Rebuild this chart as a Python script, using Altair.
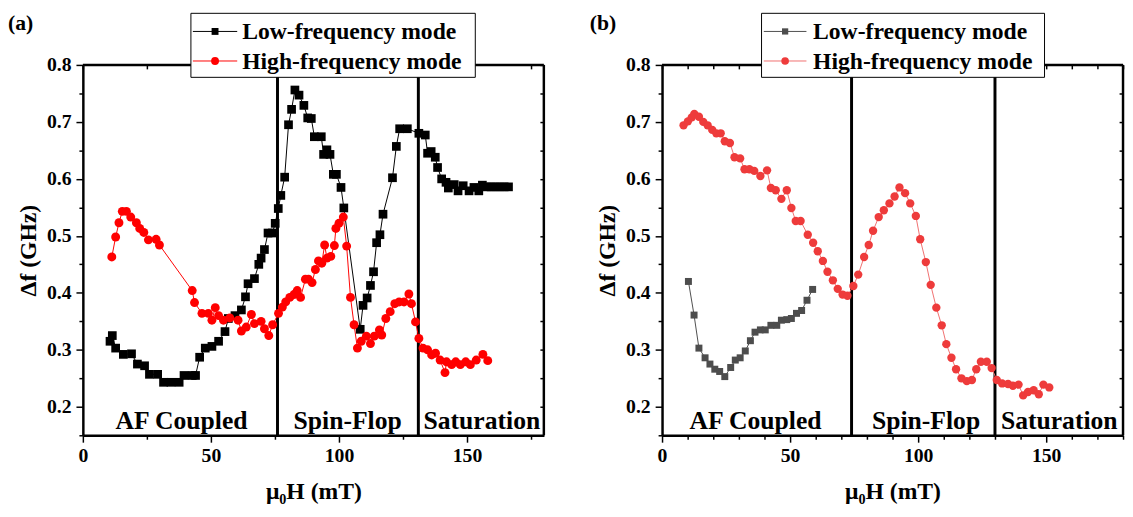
import altair as alt
import pandas as pd

FONT = "Liberation Serif"
W, H = 468, 376
XDOM = [0, 180]
YDOM = [0.15, 0.8]

series_names = ["Low-frequency mode", "High-frequency mode"]
region_labels = ["AF Coupled", "Spin-Flop", "Saturation"]

# ---------------- panel (a) ----------------
a_low_x = [10.6, 11.5, 12.8, 15.8, 19.0, 21.3, 24.1, 26.0, 29.2, 31.5, 34.4, 37.6, 39.5, 42.7, 44.0,
           45.6, 47.8, 50.4, 53.0, 55.5, 56.8, 59.4, 61.9, 63.5, 64.5, 67.0, 68.7, 69.6, 70.9, 72.3,
           74.0, 75.1, 76.3, 77.3, 78.8, 80.3, 81.5, 82.8, 84.4, 86.3, 87.8, 89.2, 90.4, 93.1, 94.0,
           95.3, 96.5, 97.8, 99.0, 100.8, 101.9, 108.3, 109.4, 111.0, 112.3, 113.5, 114.7, 116.0, 117.2,
           120.9, 122.4, 123.7, 126.7, 131.2, 133.7, 134.6, 136.0, 137.6, 138.5, 140.1, 141.8, 142.7,
           145.0, 146.5, 148.5, 150.8, 152.7, 154.6, 156.0, 157.7, 159.4, 161.1, 162.8, 164.5, 166.2]
a_low_y = [0.315, 0.325, 0.303, 0.292, 0.293, 0.275, 0.272, 0.257, 0.257, 0.243, 0.243, 0.243, 0.255, 0.255, 0.255,
           0.287, 0.303, 0.306, 0.315, 0.332, 0.355, 0.360, 0.370, 0.393, 0.416, 0.425, 0.450, 0.461, 0.476, 0.505,
           0.505, 0.522, 0.548, 0.571, 0.603, 0.695, 0.722, 0.756, 0.747, 0.729, 0.707, 0.706, 0.674, 0.674, 0.643,
           0.651, 0.643, 0.608, 0.608, 0.585, 0.549, 0.336, 0.378, 0.391, 0.413, 0.437, 0.488, 0.502, 0.538,
           0.602, 0.657, 0.688, 0.688, 0.680, 0.677, 0.645, 0.648, 0.638, 0.620, 0.600, 0.594, 0.584,
           0.590, 0.579, 0.588, 0.579, 0.585, 0.579, 0.589, 0.586, 0.586, 0.586, 0.586, 0.586, 0.586]

a_high_x = [11.3, 12.8, 14.1, 15.4, 17.0, 18.7, 20.9, 22.2, 23.8, 25.6, 28.6, 29.9, 42.7, 43.6, 46.5,
            49.0, 50.4, 51.7, 53.0, 54.9, 57.4, 60.6, 61.9, 63.8, 65.8, 67.0, 69.6, 70.9, 72.6, 74.1,
            76.4, 77.9, 79.2, 80.8, 82.4, 83.7, 85.0, 86.9, 88.1, 89.5, 90.8, 92.0, 93.3, 94.4, 95.3,
            96.8, 98.2, 98.8, 100.0, 101.7, 103.0, 104.5, 105.9, 107.2, 108.7, 110.7, 112.3, 113.8, 115.8,
            116.7, 118.3, 120.0, 121.8, 123.5, 125.4, 127.3, 128.3, 129.9, 131.2, 132.8, 134.6, 136.2,
            137.7, 139.5, 141.4, 142.0, 144.0, 145.6, 147.4, 149.5, 151.3, 153.6, 156.2, 158.1]
a_high_y = [0.463, 0.498, 0.523, 0.543, 0.543, 0.533, 0.523, 0.513, 0.506, 0.493, 0.494, 0.484, 0.404, 0.383, 0.364,
            0.364, 0.352, 0.374, 0.360, 0.352, 0.356, 0.352, 0.333, 0.340, 0.362, 0.346, 0.350, 0.337, 0.325, 0.344,
            0.364, 0.375, 0.384, 0.392, 0.397, 0.404, 0.392, 0.424, 0.424, 0.418, 0.441, 0.456, 0.452, 0.484, 0.461,
            0.464, 0.483, 0.513, 0.522, 0.533, 0.482, 0.392, 0.344, 0.303, 0.315, 0.324, 0.311, 0.324, 0.335,
            0.326, 0.355, 0.367, 0.381, 0.384, 0.384, 0.398, 0.381, 0.349, 0.320, 0.303, 0.300, 0.291,
            0.294, 0.282, 0.260, 0.279, 0.274, 0.279, 0.274, 0.279, 0.274, 0.282, 0.292, 0.281]

# ---------------- panel (b) ----------------
b_low_x = [10.3, 12.5, 14.4, 16.8, 18.7, 20.6, 22.5, 24.5, 26.8, 28.6, 30.5, 32.5, 34.5, 36.3, 38.4,
           40.3, 42.5, 44.8, 46.6, 48.7, 50.5, 52.5, 54.5, 56.6, 58.8]
b_low_y = [0.420, 0.361, 0.303, 0.286, 0.275, 0.266, 0.262, 0.253, 0.269, 0.282, 0.286, 0.298, 0.316, 0.331, 0.335,
           0.335, 0.343, 0.343, 0.352, 0.353, 0.355, 0.364, 0.369, 0.387, 0.406]

b_high_x = [8.4, 10.1, 11.6, 12.6, 14.4, 16.1, 17.8, 19.6, 21.2, 22.9, 24.5, 26.5, 28.3, 30.5, 32.2,
            34.1, 36.0, 38.4, 41.0, 42.5, 44.4, 46.6, 48.7, 50.5, 52.2, 54.1, 56.9, 59.0, 60.8, 62.8,
            64.6, 66.7, 68.6, 70.5, 72.4, 74.7, 76.6, 78.9, 80.7, 82.4, 84.6, 86.6, 88.8, 90.8, 92.7,
            94.9, 96.9, 99.1, 100.8, 103.0, 104.9, 107.1, 109.2, 111.0, 113.0, 114.8, 116.9, 119.0, 121.0,
            122.7, 124.5, 126.8, 128.7, 130.7, 132.8, 135.1, 137.0, 139.2, 141.0, 142.9, 145.1, 147.1,
            148.9, 151.2]
b_high_y = [0.694, 0.701, 0.708, 0.714, 0.709, 0.700, 0.694, 0.686, 0.680, 0.680, 0.666, 0.663, 0.638, 0.636, 0.617,
            0.617, 0.614, 0.605, 0.615, 0.584, 0.580, 0.565, 0.580, 0.549, 0.526, 0.526, 0.502, 0.488, 0.473, 0.456,
            0.437, 0.422, 0.407, 0.397, 0.395, 0.412, 0.432, 0.463, 0.484, 0.509, 0.533, 0.545, 0.557, 0.569, 0.585,
            0.575, 0.557, 0.535, 0.494, 0.454, 0.414, 0.374, 0.343, 0.310, 0.286, 0.266, 0.250, 0.245, 0.247,
            0.266, 0.279, 0.279, 0.268, 0.247, 0.241, 0.240, 0.237, 0.239, 0.220, 0.226, 0.229, 0.222,
            0.239, 0.234]

a_sep_x = [76, 131]
b_sep_x = [74, 130]
a_region_x = [38.5, 103.4, 155.8]
b_region_x = [36.5, 103.1, 155.1]
a_xticks = [0, 25, 50, 75, 100, 125, 150, 175]
b_xticks = [0, 10, 20, 30, 40, 50, 60, 70, 80, 90, 100, 110, 120, 130, 140, 150, 160, 170, 180]
yticks = [0.15, 0.2, 0.25, 0.3, 0.35, 0.4, 0.45, 0.5, 0.55, 0.6, 0.65, 0.7, 0.75, 0.8]

YMAJOR = "abs(datum.value*10 - round(datum.value*10)) < 0.01"
XMAJOR = "datum.value % 50 === 0"


def panel(tag, low_x, low_y, high_x, high_y, sep_x, region_x, xticks, sty):
    xs = alt.Scale(domain=XDOM, nice=False, zero=False)
    ys = alt.Scale(domain=YDOM, nice=False, zero=False)
    xaxis = alt.Axis(values=xticks, labelExpr=XMAJOR + " ? datum.label : ''",
                     tickSize={"condition": {"test": XMAJOR, "value": 7}, "value": 4},
                     title="μ₀H (mT)", grid=False, domainWidth=2.5, domainColor="black",
                     tickWidth=1.5, tickColor="black", labelPadding=4, titlePadding=14,
                     labelFontSize=20, titleFontSize=24, labelFlush=False)
    yaxis = alt.Axis(values=yticks, labelExpr=YMAJOR + " ? format(datum.value, '.1f') : ''",
                     tickSize={"condition": {"test": YMAJOR, "value": 7}, "value": 4},
                     title="Δf (GHz)", grid=False, domainWidth=2.5, domainColor="black",
                     tickWidth=1.5, tickColor="black", labelPadding=5, titlePadding=6,
                     labelFontSize=20, titleFontSize=24, labelFlush=False)
    X = alt.X("x:Q", scale=xs, axis=xaxis)
    Y = alt.Y("y:Q", scale=ys, axis=yaxis)

    df_low = pd.DataFrame({"x": low_x, "y": low_y})
    df_high = pd.DataFrame({"x": high_x, "y": high_y})
    df_sep = pd.DataFrame({"x": sep_x})
    df_reg = pd.DataFrame({"x": region_x, "label": region_labels})
    one = pd.DataFrame({"a": [0]})

    sep = alt.Chart(df_sep).mark_rule(color="black", strokeWidth=3).encode(
        x=X, y=alt.value(0), y2=alt.value(H))
    low_line = alt.Chart(df_low).mark_line(color=sty["low_line"], strokeWidth=1).encode(x=X, y=Y)
    low_pts = alt.Chart(df_low).mark_point(shape="square", filled=True, opacity=1,
                                           size=sty["low_size"], color=sty["low"]).encode(x=X, y=Y)
    high_line = alt.Chart(df_high).mark_line(color=sty["high_line"], strokeWidth=1).encode(x=X, y=Y)
    high_pts = alt.Chart(df_high).mark_point(shape="circle", filled=True, opacity=1,
                                             size=sty["high_size"], color=sty["high"]).encode(x=X, y=Y)
    reg = alt.Chart(df_reg).mark_text(font=FONT, fontWeight="bold", fontSize=26, color="black",
                                      baseline="alphabetic", align="center").encode(
        x=X, y=alt.value(H - 6.5), text="label:N")
    top = alt.Chart(one).mark_rule(color="black", strokeWidth=2.5).encode(
        x=alt.value(0), x2=alt.value(W), y=alt.value(0))
    right = alt.Chart(one).mark_rule(color="black", strokeWidth=2.5).encode(
        x=alt.value(W), y=alt.value(0), y2=alt.value(H))

    lg = sty["legend"]
    leg_box = alt.Chart(one).mark_rect(fill="white", stroke="black", strokeWidth=1).encode(
        x=alt.value(lg["x0"]), x2=alt.value(lg["x1"]), y=alt.value(-52.4), y2=alt.value(12.6))
    legend_layers = [leg_box]
    rows = [(-34, sty["low_line"], sty["low"], "square", sty["leg_low_size"], series_names[0]),
            (-4, sty["high_line"], sty["high"], "circle", sty["leg_high_size"], series_names[1])]
    for ry, lc, mc, shp, sz, name in rows:
        legend_layers.append(alt.Chart(one).mark_rule(color=lc, strokeWidth=1).encode(
            x=alt.value(lg["l0"]), x2=alt.value(lg["l1"]), y=alt.value(ry)))
        legend_layers.append(alt.Chart(one).mark_point(shape=shp, filled=True, opacity=1, size=sz,
                                                       color=mc).encode(
            x=alt.value((lg["l0"] + lg["l1"]) / 2), y=alt.value(ry)))
        legend_layers.append(alt.Chart(one).mark_text(text=name, font=FONT, fontWeight="bold",
                                                      fontSize=24, color="black", align="left",
                                                      baseline="middle").encode(
            x=alt.value(lg["tx"]), y=alt.value(ry + 1)))
    lab = alt.Chart(one).mark_text(text=tag, font=FONT, fontWeight="bold", fontSize=22,
                                   color="black", align="left", baseline="middle").encode(
        x=alt.value(sty["tag_x"]), y=alt.value(-42.5))

    main = alt.layer(sep, low_line, high_line, low_pts, high_pts, reg, top, right,
                     *legend_layers, lab)

    sec = alt.Chart(df_high).mark_point(opacity=0).encode(
        x=alt.X("x:Q", scale=xs, axis=alt.Axis(orient="top", values=xticks, labels=False,
                                               domain=False, tickSize=4, offset=-4, title=None,
                                               grid=False, tickColor="black", tickWidth=1.5)),
        y=alt.Y("y:Q", scale=ys, axis=alt.Axis(orient="right", values=yticks, labels=False,
                                               domain=False, tickSize=4, offset=-4, title=None,
                                               grid=False, tickColor="black", tickWidth=1.5)))
    return alt.layer(main, sec).resolve_scale(x="independent", y="independent").properties(
        width=W, height=H)


sty_a = {"low": "#000000", "low_line": "#000000", "high": "#ff0000", "high_line": "#ff0000",
         "low_size": 78, "high_size": 82, "leg_low_size": 49, "leg_high_size": 64,
         "legend": {"x0": 109.7, "x1": 398.4, "l0": 111.7, "l1": 156.7, "tx": 161.7},
         "tag_x": -76}
sty_b = {"low": "#4d4d4d", "low_line": "#4d4d4d", "high": "#ee3b3b", "high_line": "#f07070",
         "low_size": 50, "high_size": 72, "leg_low_size": 40, "leg_high_size": 60,
         "legend": {"x0": 101.0, "x1": 388.3, "l0": 103.3, "l1": 146.6, "tx": 153.3},
         "tag_x": -73.4}

pa = panel("(a)", a_low_x, a_low_y, a_high_x, a_high_y, a_sep_x, a_region_x, a_xticks, sty_a)
pb = panel("(b)", b_low_x, b_low_y, b_high_x, b_high_y, b_sep_x, b_region_x, b_xticks, sty_b)

chart = alt.hconcat(pa, pb, spacing=44).properties(padding=0).configure_view(
    strokeWidth=0).configure_axis(labelFont=FONT, titleFont=FONT, labelFontWeight="bold",
                                  titleFontWeight="bold", labelColor="black", titleColor="black")

chart.save("out.html", embed_options={"renderer": "svg", "actions": False})
